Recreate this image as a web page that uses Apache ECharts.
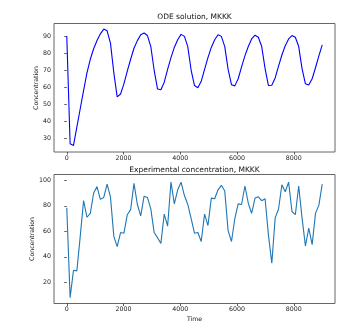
<!DOCTYPE html>
<html>
<head>
<meta charset="utf-8">
<script src="https://cdn.jsdelivr.net/npm/echarts@6/dist/echarts.min.js"></script>
<style>
  html, body { margin: 0; padding: 0; background: #fff; }
  #chart { width: 353px; height: 332px; }
</style>
</head>
<body>
<div id="chart"></div>
<script>
// Sample times (s), shared by both panels
const times = [
  0, 118, 237, 355, 474, 592, 711, 829, 947, 1066,
  1184, 1303, 1421, 1539, 1658, 1776, 1895, 2013, 2132, 2250,
  2368, 2487, 2605, 2724, 2842, 2961, 3079, 3197, 3316, 3434,
  3553, 3671, 3789, 3908, 4026, 4145, 4263, 4382, 4500, 4618,
  4737, 4855, 4974, 5092, 5211, 5329, 5447, 5566, 5684, 5803,
  5921, 6039, 6158, 6276, 6395, 6513, 6632, 6750, 6868, 6987,
  7105, 7224, 7342, 7461, 7579, 7697, 7816, 7934, 8053, 8171,
  8289, 8408, 8526, 8645, 8763, 8882, 9000
];

// ODE solution for MKKK
const odeValues = [
  90.2, 26.6, 25.7, 36.5, 47.3, 58.0, 68.5, 76.5, 82.7, 87.6,
  91.5, 94.3, 93.3, 86.0, 68.5, 54.3, 56.0, 62.0, 69.5, 76.5,
  83.0, 87.5, 91.0, 92.0, 90.5, 84.0, 70.0, 59.0, 58.5, 63.0,
  70.5, 77.5, 83.5, 88.0, 91.2, 90.0, 84.0, 70.0, 61.0, 59.7,
  63.5, 70.5, 77.5, 83.5, 88.0, 91.0, 90.0, 84.0, 70.5, 61.5,
  60.8, 65.0, 72.0, 78.5, 84.0, 88.5, 90.7, 89.5, 84.0, 71.0,
  61.0, 61.2, 65.5, 72.5, 79.0, 84.5, 88.5, 90.5, 89.5, 84.0,
  71.0, 62.0, 61.3, 65.0, 71.5, 78.5, 85.0
];

// Measured MKKK concentration
const expValues = [
  78.5, 8.0, 29.5, 29.0, 56.0, 84.0, 71.0, 74.0, 90.0, 95.0,
  85.0, 86.5, 97.0, 87.0, 56.0, 48.0, 59.0, 58.5, 73.0, 77.0,
  97.5, 81.0, 72.0, 87.5, 86.5, 77.5, 59.0, 55.0, 50.5, 73.5,
  64.0, 98.5, 81.5, 92.5, 98.5, 88.0, 81.0, 70.0, 58.5, 59.0,
  52.0, 73.5, 64.5, 86.0, 85.5, 92.5, 96.0, 91.5, 60.5, 52.0,
  70.0, 81.5, 81.0, 95.5, 82.0, 74.0, 86.0, 87.0, 84.0, 85.5,
  57.0, 35.0, 70.5, 77.5, 96.5, 91.0, 98.5, 75.5, 73.0, 95.5,
  70.5, 48.5, 62.5, 49.5, 74.0, 80.5, 97.0
];

const timeTicks = [0, 2000, 4000, 6000, 8000];
const odeTicks = [30, 40, 50, 60, 70, 80, 90];
const expTicks = [20, 40, 60, 80, 100];

const FONT = 'DejaVu Sans';
const pairs = (xs, ys) => xs.map((x, i) => [x, ys[i]]);
const plain = v => String(v);

function xAxisFor(gridIndex) {
  return {
    type: 'value', gridIndex, min: -450, max: 9450,
    axisLine: { show: false },
    splitLine: { show: false },
    axisTick: { show: true, length: 2.5, inside: false, customValues: timeTicks,
                lineStyle: { color: '#333', width: 0.8 } },
    axisLabel: { customValues: timeTicks, formatter: plain, margin: 3,
                 fontFamily: FONT, fontSize: 6.3, color: '#222' }
  };
}
function yAxisFor(gridIndex, min, max, ticks) {
  return {
    type: 'value', gridIndex, min, max,
    axisLine: { show: false },
    splitLine: { show: false },
    axisTick: { show: true, length: 2.5, inside: false, customValues: ticks,
                lineStyle: { color: '#333', width: 0.8 } },
    axisLabel: { customValues: ticks, formatter: plain, margin: 3,
                 fontFamily: FONT, fontSize: 6.3, color: '#222' }
  };
}

const chart = echarts.init(document.getElementById('chart'), null, { renderer: 'canvas' });
chart.setOption({
  backgroundColor: '#fff',
  animation: false,
  grid: [
    { left: 54, top: 23.5, width: 281, height: 128.5, show: true,
      borderColor: '#555', borderWidth: 0.9, backgroundColor: 'transparent' },
    { left: 54, top: 174.5, width: 281, height: 129, show: true,
      borderColor: '#555', borderWidth: 0.9, backgroundColor: 'transparent' }
  ],
  xAxis: [xAxisFor(0), xAxisFor(1)],
  yAxis: [yAxisFor(0, 21.8, 97.6, odeTicks), yAxisFor(1, 3.4, 104.5, expTicks)],
  series: [
    { type: 'line', xAxisIndex: 0, yAxisIndex: 0, data: pairs(times, odeValues),
      showSymbol: false, lineStyle: { color: '#0000ff', width: 1.1 } },
    { type: 'line', xAxisIndex: 1, yAxisIndex: 1, data: pairs(times, expValues),
      showSymbol: false, lineStyle: { color: '#1f77b4', width: 1.1 } }
  ],
  graphic: [
    { type: 'text', x: 194.5, y: 17, style: { text: 'ODE solution, MKKK', font: '7.5px ' + FONT,
      fill: '#111', align: 'center', verticalAlign: 'middle' } },
    { type: 'text', x: 194.5, y: 170, style: { text: 'Experimental concentration, MKKK', font: '7.5px ' + FONT,
      fill: '#111', align: 'center', verticalAlign: 'middle' } },
    { type: 'text', x: 36, y: 88, rotation: Math.PI / 2, style: { text: 'Concentration', font: '6.2px ' + FONT,
      fill: '#222', align: 'center', verticalAlign: 'middle' } },
    { type: 'text', x: 32, y: 239, rotation: Math.PI / 2, style: { text: 'Concentration', font: '6.2px ' + FONT,
      fill: '#222', align: 'center', verticalAlign: 'middle' } },
    { type: 'text', x: 194.5, y: 319.5, style: { text: 'Time', font: '6.2px ' + FONT,
      fill: '#222', align: 'center', verticalAlign: 'middle' } }
  ]
});
</script>
</body>
</html>
